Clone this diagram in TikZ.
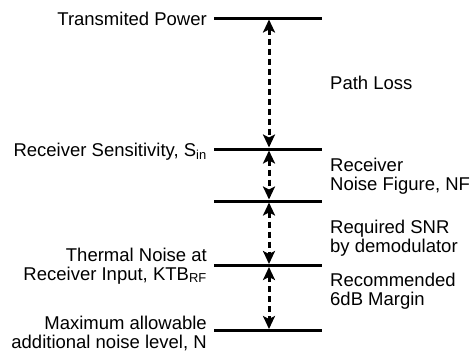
\documentclass[tikz,border=0pt]{standalone}
\usepackage{fontspec}
\setmainfont{Liberation Sans}
\usetikzlibrary{arrows.meta,calc}

\begin{document}
\begin{tikzpicture}[x=1pt,y=-1pt,
  level/.style={line width=3pt},
  margin/.style={line width=3pt, dash pattern=on 6pt off 4pt,
    {Stealth[length=13pt,width=12pt,inset=3pt]}-{Stealth[length=13pt,width=12pt,inset=3pt]},
    shorten <=1.5pt, shorten >=1.5pt},
  lbl/.style={font=\fontsize{18.5}{19}\selectfont, inner sep=0pt}]
\useasboundingbox (0,0) rectangle (471,354);

% Define level points
\coordinate (P1) at (269,18);
\coordinate (P2) at (269,149);
\coordinate (P3) at (269,201);
\coordinate (P4) at (269,265.5);
\coordinate (P5) at (269,330.5);

% Draw the levels
\draw[level] ($(P1)+(-55,0)$) -- ($(P1)+(53,0)$);
\draw[level] ($(P2)+(-55,0)$) -- ($(P2)+(53,0)$);
\draw[level] ($(P3)+(-55,0)$) -- ($(P3)+(53,0)$);
\draw[level] ($(P4)+(-55,0)$) -- ($(P4)+(53,0)$);
\draw[level] ($(P5)+(-55,0)$) -- ($(P5)+(53,0)$);

% Arrows between levels
\draw[margin] (P1) -- (P2);
\draw[margin] (P2) -- (P3);
\draw[margin] (P3) -- (P4);
\draw[margin] (P4) -- (P5);

% Level labels
\node[lbl, anchor=base east] (txpow) at (207,25) {Transmited Power};
\node[lbl, anchor=base east] (sens) at (207,156) {Receiver Sensitivity, S\textsubscript{in}};
\node[lbl, anchor=base east, align=right] (thermal) at (207,280) {Thermal Noise at\\Receiver Input, KTB\textsubscript{RF}};
\node[lbl, anchor=base east, align=right] (maxnoise) at (207,348) {Maximum allowable\\additional noise level, N};

% Gap labels
\node[lbl, anchor=base west] (loss) at (330,89) {Path Loss};
\node[lbl, anchor=base west, align=left] (nf) at (330,190) {Receiver\\Noise Figure, NF};
\node[lbl, anchor=base west, align=left] (snr) at (330,252) {Required SNR\\by demodulator};
\node[lbl, anchor=base west, align=left] (margin6) at (330,305) {Recommended\\6dB Margin};

\end{tikzpicture}
\end{document}
